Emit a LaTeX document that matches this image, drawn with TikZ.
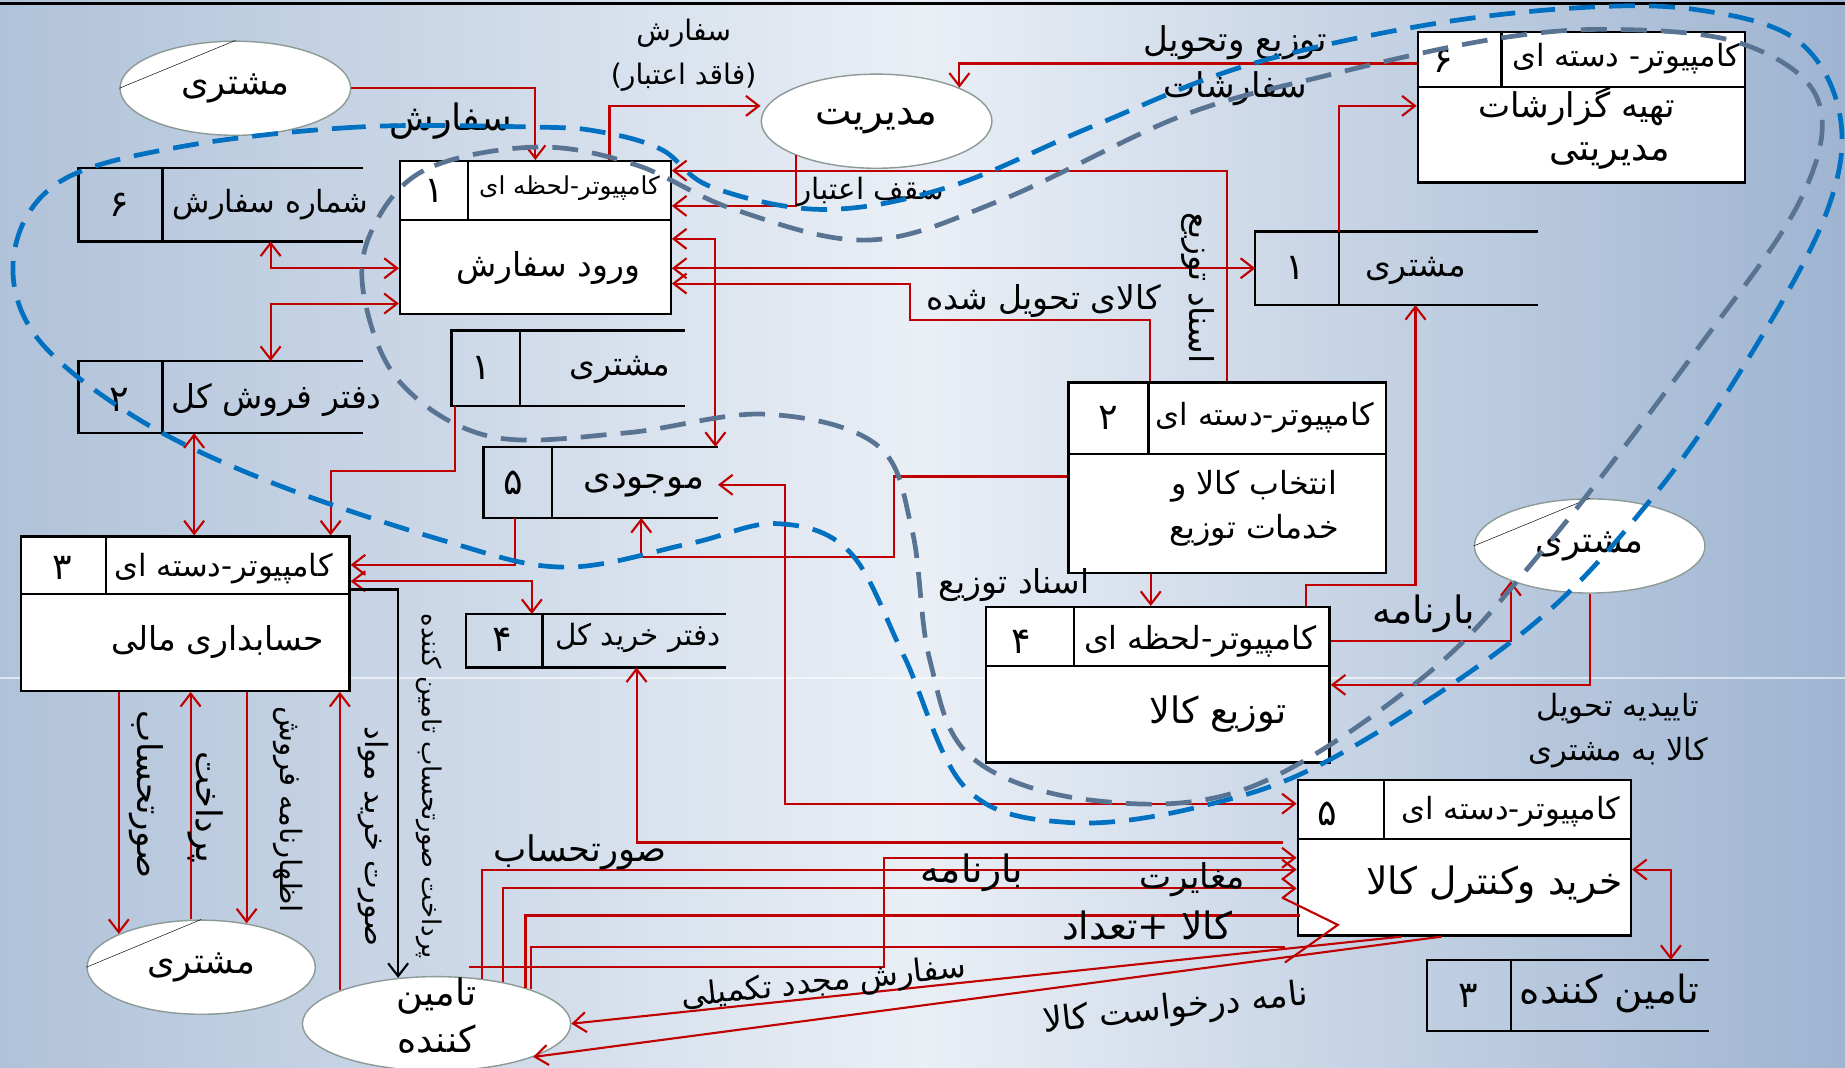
\documentclass[tikz,border=0pt]{standalone}
\usepackage{fontspec}
\usetikzlibrary{shapes.geometric,arrows.meta}
\newfontfamily\fa[Script=Arabic]{DejaVu Sans}
\TeXXeTstate=1
\newcommand{\rl}[1]{\beginR#1\endR}

\definecolor{flowred}{RGB}{192,0,0}
\definecolor{bluezone}{RGB}{0,112,192}
\definecolor{greyzone}{RGB}{88,116,146}
\definecolor{entline}{RGB}{140,155,150}
\definecolor{bgleft}{RGB}{176,194,217}
\definecolor{bgmid}{RGB}{234,239,246}
\definecolor{bgright}{RGB}{158,180,209}

\tikzset{
  proc/.style = {draw, line width=2pt, fill=white, inner sep=0pt},
  storebox/.style = {inner sep=0pt},
  storeline/.style = {line width=2pt},
  ent/.style = {ellipse, draw=entline, line width=1.2pt, fill=white, inner sep=0pt,
                minimum width=196, minimum height=80, font=\fa\fontsize{30}{34}\selectfont},
  bigtxt/.style = {font=\fa\fontsize{#1}{#1}\selectfont, inner sep=0pt},
  bigtxt/.default = 28,
  headtxt/.style = {font=\fa\fontsize{#1}{#1}\selectfont, inner sep=0pt},
  headtxt/.default = 26,
  numtxt/.style = {font=\fa\fontsize{31}{34}\selectfont, inner sep=0pt},
  lbl/.style = {font=\fa\fontsize{#1}{37}\selectfont, inner sep=0pt, align=center},
  lbl/.default = 26,
  wire/.style = {flowred, line width=1.8pt},
  flow/.style = {wire, -{Straight Barb[length=11pt,width=17pt]}},
  flows/.style = {wire, {Straight Barb[length=11pt,width=17pt]}-{Straight Barb[length=11pt,width=17pt]}},
  zone/.style = {line width=4pt, dash pattern=on 22pt off 12pt}
}

\begin{document}
\begin{tikzpicture}[x=1pt, y=-1pt]
\useasboundingbox (0,0) rectangle (1568,907);
\begin{scope}
\clip (0,0) rectangle (1568,907);
\shade[left color=bgleft, right color=bgright, middle color=bgmid] (0,0) rectangle (1568,907);
\draw[white, opacity=.6, line width=2pt] (0,576) -- (1568,576);
\draw[line width=2.5pt] (0,3) -- (1568,3);

% processes
\node[proc, minimum width=230, minimum height=130] (p1) at (455,202) {};
\node[proc, minimum width=270, minimum height=162] (p2) at (1043,406) {};
\node[proc, minimum width=279, minimum height=131] (p3) at (157.5,521.5) {};
\node[proc, minimum width=292, minimum height=132] (p4) at (984,582) {};
\node[proc, minimum width=283, minimum height=132] (p5) at (1244.5,729) {};
\node[proc, minimum width=278, minimum height=128] (p6) at (1344,91) {};
\draw[storeline] (p1.west |- 0,187) -- (p1.east |- 0,187) (p1.north -| 398,0) -- (398,187);
\draw[storeline] (p2.west |- 0,386) -- (p2.east |- 0,386) (p2.north -| 976,0) -- (976,386);
\draw[storeline] (p3.west |- 0,505) -- (p3.east |- 0,505) (p3.north -| 90,0) -- (90,505);
\draw[storeline] (p4.west |- 0,566) -- (p4.east |- 0,566) (p4.north -| 913,0) -- (913,566);
\draw[storeline] (p5.west |- 0,713) -- (p5.east |- 0,713) (p5.north -| 1176,0) -- (1176,713);
\draw[storeline] (p6.west |- 0,74) -- (p6.east |- 0,74) (p6.north -| 1276,0) -- (1276,74);

% data stores
\node[storebox, minimum width=241, minimum height=62] (d6) at (187.5,174) {};
\node[storebox, minimum width=241, minimum height=61] (d2) at (187.5,337.5) {};
\node[storebox, minimum width=198, minimum height=64] (d1) at (483,313) {};
\node[storebox, minimum width=199, minimum height=60] (d5) at (510.5,410) {};
\node[storebox, minimum width=221, minimum height=45] (d4) at (506.5,544.5) {};
\node[storebox, minimum width=240, minimum height=62] (d1b) at (1187,228) {};
\node[storebox, minimum width=239, minimum height=60] (d3) at (1332.5,846) {};
\foreach \d/\x in {d6/138, d2/138, d1/442, d5/469, d4/461, d1b/1138, d3/1284} {
  \draw[storeline] (\d.north east) -- (\d.north west) -- (\d.south west) -- (\d.south east);
  \draw[storeline] (\d.north -| \x,0) -- (\d.south -| \x,0);
}

% external entities
\node[ent] (e1) at (200,75) {\rl{مشتری}};
\node[ent, minimum width=194] (e2) at (171,822) {\rl{مشتری}};
\node[ent, minimum width=228] (e3) at (371,870) {};
\node[ent, font=\fa\fontsize{33}{34}\selectfont] (e4) at (745,103) {\rl{مدیریت}};
\node[ent] (e5) at (1351,464) {\rl{مشتری}};
\draw (e1.west) -- (e1.north);
\draw (e2.west) -- (e2.north);
\draw (e5.west) -- (e5.north);
\node[bigtxt, align=center, font=\fa\fontsize{31}{40}\selectfont] (e3t) at (371,863) {\rl{تامین}\\\rl{کننده}};

% texts in processes
\node[numtxt] (p1n) at (369,162) {۱};
\node[headtxt=21] (p1h) at (484,160) {\rl{کامپیوتر-لحظه ای}};
\node[bigtxt] (p1t) at (466,228) {\rl{ورود سفارش}};
\node[numtxt] (p2n) at (942,355) {۲};
\node[headtxt] (p2h) at (1075,355) {\rl{کامپیوتر-دسته ای}};
\node[bigtxt, align=center, font=\fa\fontsize{27}{38}\selectfont] (p2t) at (1066,432) {\rl{انتخاب کالا و}\\\rl{خدمات توزیع}};
\node[numtxt] (p3n) at (53,483) {۳};
\node[headtxt] (p3h) at (190,483) {\rl{کامپیوتر-دسته ای}};
\node[bigtxt] (p3t) at (185,546) {\rl{حسابداری مالی}};
\node[numtxt] (p4n) at (868,545) {۴};
\node[headtxt=27] (p4h) at (1020,545) {\rl{کامپیوتر-لحظه ای}};
\node[bigtxt=31] (p4t) at (1035,607) {\rl{توزیع کالا}};
\node[numtxt] (p5n) at (1128,692) {۵};
\node[headtxt] (p5h) at (1284,690) {\rl{کامپیوتر-دسته ای}};
\node[bigtxt=32] (p5t) at (1270,752) {\rl{خرید وکنترل کالا}};
\node[numtxt] (p6n) at (1227,52) {۶};
\node[headtxt] (p6h) at (1382,50) {\rl{کامپیوتر- دسته ای}};
\node[bigtxt=29] (p6t) at (1340,90) {\rl{تهیه گزارشات}};
\node[bigtxt=31] (p6u) at (1368,133) {\rl{مدیریتی}};

% texts in stores
\node[numtxt] (d6n) at (101,174) {۶};
\node[bigtxt=26] (d6t) at (230,174) {\rl{شماره سفارش}};
\node[numtxt] (d2n) at (101,340) {۲};
\node[bigtxt] (d2t) at (235,340) {\rl{دفتر فروش کل}};
\node[numtxt] (d1n) at (409,313) {۱};
\node[bigtxt] (d1t) at (527,314) {\rl{مشتری}};
\node[numtxt] (d5n) at (436,410) {۵};
\node[bigtxt=30] (d5t) at (547,413) {\rl{موجودی}};
\node[numtxt] (d4n) at (427,544) {۴};
\node[bigtxt=25] (d4t) at (542,542) {\rl{دفتر خرید کل}};
\node[numtxt] (d1bn) at (1101,228) {۱};
\node[bigtxt] (d1bt) at (1203,230) {\rl{مشتری}};
\node[numtxt] (d3n) at (1248,846) {۳};
\node[bigtxt=33] (d3t) at (1368,844) {\rl{تامین کننده}};

% free ends
\coordinate (c16) at (1090,716);
\coordinate (kt) at (1105,778);
\coordinate (qt) at (1092,805);
\coordinate (bn) at (399,822);

% flows
\draw[flow] (e1.east) -| (p1.north -| 455,0);
\draw[flow] (p1.north -| 518,0) |- (e4.west |- 0,90);
\draw[flow] (e4.203) |- (p1.east |- 0,175);
\draw[flow] (p2.north -| 1043,0) |- (p1.east |- 0,145);
\draw[flows] (p1.east |- 0,228) -- (d1b.west |- 0,228);
\draw[flow] (p2.north -| 977,0) -- (977,272) -| (773,241) -- (p1.east |- 0,241);
\draw[flows] (p1.east |- 0,203) -| (d5.north -| 608,0);
\draw[flows] (d6.south -| 230,0) |- (p1.west |- 0,228);
\draw[flows] (p1.west |- 0,258) -| (d2.north -| 230,0);
\draw[flows] (d2.south -| 165,0) -- (p3.north -| 165,0);
\draw[flow] (d1.south -| 387,0) -- (387,400) -| (p3.north -| 281,0);
\draw[flow] (d5.south -| 438,0) |- (p3.east |- 0,480);
\draw[flows] (p3.east |- 0,494) -| (d4.north -| 452,0);
\draw[flow] (p2.west |- 0,405) -| (760,473) -| (d5.south -| 545,0);
\draw[flows] (p5.west |- 0,683) -| (667,412) -- (d5.east |- 0,412);
\draw[flow] (c16) -| (d4.south -| 541,0);
\draw[flow] (p2.south -| 978,0) -- (p4.north -| 978,0);
\draw[flow] (p4.north -| 1110,0) -- (1110,497) -| (d1b.south -| 1203,0);
\draw[flow] (d1b.north -| 1138,0) |- (p6.west |- 0,90);
\draw[flow] (p6.west |- 0,54) -| (e4.22);
\draw[flow] (p4.east |- 0,545) -| (e5.204);
\draw[flow] (e5.south) |- (p4.east |- 0,582);
\draw[flows] (p5.east |- 0,739) -| (d3.north -| 1420,0);
\draw[flow] (p3.south -| e2.158) -- (e2.158);
\draw[flow] (e2.north -| 162,0) -- (p3.south -| 162,0);
\draw[flow] (p3.south -| e2.44) -- (e2.44);
\draw[flow] (e3.161) -- (p3.south -| e3.161);
\draw[flow, black] (p3.east |- 0,501) -| (e3.130);
\draw[flow] (e3.45) |- (p5.west |- 0,739);
\draw[flow] (e3.32) |- (p5.west |- 0,755);
\draw[wire] (e3.22) |- (kt);
\draw[wire] (e3.20) |- (qt);
\draw[wire] (1090,763) -- (1137,786) -- (1092,818);
\draw[flow] (bn) -| (751,729) -- (p5.west |- 0,729);
\draw[flow] (p5.south -| 1191,0) -- (e3.east);
\draw[flow] (p5.south -| 1225,0) -- (e3.341);

% flow labels
\node[lbl=31] (l1) at (383,103) {\rl{سفارش}};
\node[lbl=24] (l2) at (581,47) {\rl{سفارش}\\\rl{(فاقد اعتبار)}};
\node[lbl=25] (l3) at (740,163) {\rl{سقف اعتبار}};
\node[lbl=29, font=\fa\fontsize{29}{39}\selectfont] (l4) at (1050,56) {\rl{توزیع وتحویل}\\\rl{سفارشات}};
\node[lbl=28, rotate=-90] (l5) at (1018,245) {\rl{اسناد توزیع}};
\node[lbl=28] (l6) at (887,256) {\rl{کالای تحویل شده}};
\node[lbl=28] (l7) at (862,497) {\rl{اسناد توزیع}};
\node[lbl=32] (l8) at (1210,522) {\rl{بارنامه}};
\node[lbl=26] (l9) at (1375,621) {\rl{تاییدیه تحویل}\\\rl{کالا به مشتری}};
\node[lbl=30] (l10) at (493,724) {\rl{صورتحساب}};
\node[lbl=32] (l11) at (826,742) {\rl{بارنامه}};
\node[lbl=29] (l12) at (1013,748) {\rl{مغایرت}};
\node[lbl=32] (l13) at (975,787) {\rl{کالا +تعداد}};
\node[lbl=27, rotate=6] (l14) at (700,836) {\rl{سفارش مجدد تکمیلی}};
\node[lbl=29, rotate=6] (l15) at (999,858) {\rl{نامه درخواست کالا}};
\node[lbl=29, rotate=-90] (l16) at (124,675) {\rl{صورتحساب}};
\node[lbl=30, rotate=-90] (l17) at (175,686) {\rl{پرداخت}};
\node[lbl=25, rotate=-90] (l18) at (245,688) {\rl{اظهارنامه فروش}};
\node[lbl=26, rotate=-90] (l19) at (317,711) {\rl{صورت خرید مواد}};
\node[lbl=22, rotate=-90] (l20) at (365,668) {\rl{پرداخت صورتحساب تامین کننده}};

% dashed zones
\draw[zone, greyzone] plot[smooth cycle, tension=.6] coordinates {(455,125) (360,145) (315,198) (310,255) (341,326) (417,371) (531,368) (650,352) (745,378) (775,450) (790,560) (825,643) (927,680) (1060,670) (1209,576) (1310,469) (1440,300) (1530,170) (1545,85) (1480,37) (1370,25) (1265,34) (1124,65) (1003,99) (851,170) (738,204) (624,178) (540,140)};
\draw[zone, bluezone] plot[smooth cycle, tension=.6] coordinates {(455,108) (304,108) (152,125) (50,155) (12,215) (30,285) (114,354) (228,409) (379,460) (480,482) (586,462) (660,445) (722,469) (768,557) (821,670) (908,699) (1022,685) (1135,643) (1300,533) (1405,422) (1485,306) (1551,184) (1564,100) (1527,34) (1440,8) (1335,7) (1202,23) (1055,57) (927,108) (806,159) (700,178) (605,159) (562,127) (510,112)};
\end{scope}
\end{tikzpicture}
\end{document}
